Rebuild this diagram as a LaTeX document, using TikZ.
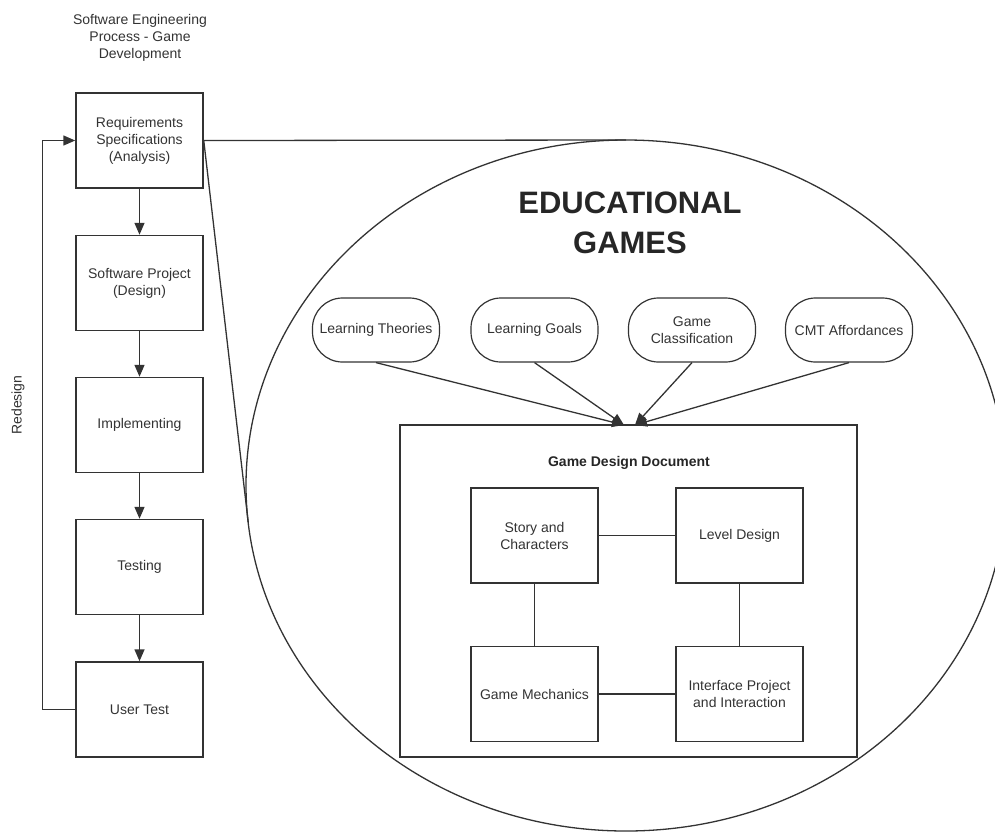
\documentclass[tikz,border=0pt]{standalone}
\usepackage{fontspec}
\setmainfont{Liberation Sans}
\usepackage{tikz}
\usetikzlibrary{calc}
\usetikzlibrary{shapes}
\usetikzlibrary{arrows.meta}
\definecolor{ink}{HTML}{333333}

\begin{document}
\begin{tikzpicture}[x=1pt, y=-1pt,
		every node/.style={text=ink, font=\fontsize{14}{17}\selectfont, align=center},
		stage/.style={draw=ink, line width=1.5pt, minimum width=127pt, minimum height=95pt, inner sep=0pt},
		pill/.style={draw=ink, line width=1.2pt, rounded corners=30pt, minimum width=127pt, minimum height=64pt, inner sep=0pt},
		link/.style={draw=ink, line width=1.5pt},
		flow/.style={link, -{Triangle[length=12pt, width=10pt]}}]
			\useasboundingbox (0,0) rectangle (995,831);
			\clip (0,0) rectangle (995,831);

			% process column
			\node (title) at (140,38) {Software Engineering\\Process - Game\\Development};

			\node[stage] (req) at (139.5,140.5) {Requirements\\Specifications\\(Analysis)};
			\node[stage] (proj) at (139.5,283) {Software Project\\(Design)};
			\node[stage] (impl) at (139.5,425) {Implementing};
			\node[stage] (test) at (139.5,567) {Testing};
			\node[stage] (user) at (139.5,709.5) {User Test};

			\path[flow] (req) -- (proj);
			\path[flow] (proj) -- (impl);
			\path[flow] (impl) -- (test);
			\path[flow] (test) -- (user);
			\path[flow] (user.west) -- ++(-33,0) |- (req.west);
			\node[rotate=90] (redesign) at (18,405) {Redesign};

			% zoom ellipse
			\draw[ink, line width=1.3pt] (626,485.5) ellipse [x radius=380pt, y radius=345.5pt];
			\coordinate (elltop) at (626,140);
			\coordinate (elltan) at (248.2,522);
			\path[link, line width=1.3pt] (req.east) -- (elltop);
			\path[link, line width=1.3pt] (req.east) -- (elltan);

			\node[font=\fontsize{31}{40}\selectfont\bfseries, text=black!85] (edu) at (630,223) {EDUCATIONAL\\GAMES};

			\node[pill] (theo) at (376,330) {Learning Theories};
			\node[pill] (goal) at (534.5,330) {Learning Goals};
			\node[pill] (clas) at (692,330) {Game\\Classification};
			\node[pill] (cmt) at (849,330) {CMT Affordances};

			% design document
			\node[draw=ink, line width=1.5pt, minimum width=457pt, minimum height=332pt, inner sep=0pt] (gdd) at (628.5,591) {};
			\node[font=\fontsize{14}{17}\selectfont\bfseries, text=black!85] (gddlabel) at (629,463) {Game Design Document};

			\coordinate (tipa) at (624,425);
			\coordinate (tipb) at (635,425);
			\path[flow, line width=1.3pt] (theo.south) -- (tipa);
			\path[flow, line width=1.3pt] (goal.south) -- (tipa);
			\path[flow, line width=1.3pt] (clas.south) -- (tipb);
			\path[flow, line width=1.3pt] (cmt.south) -- (tipb);

			\node[stage] (story) at (534.5,535.5) {Story and\\Characters};
			\node[stage] (level) at (739.5,535.5) {Level Design};
			\node[stage] (mech) at (534.5,694) {Game Mechanics};
			\node[stage] (ui) at (739.5,694) {Interface Project\\and Interaction};

			\path[link] (story) -- (level);
			\path[link] (story) -- (mech);
			\path[link] (level) -- (ui);
			\path[link] (mech) -- (ui);
\end{tikzpicture}
\end{document}
